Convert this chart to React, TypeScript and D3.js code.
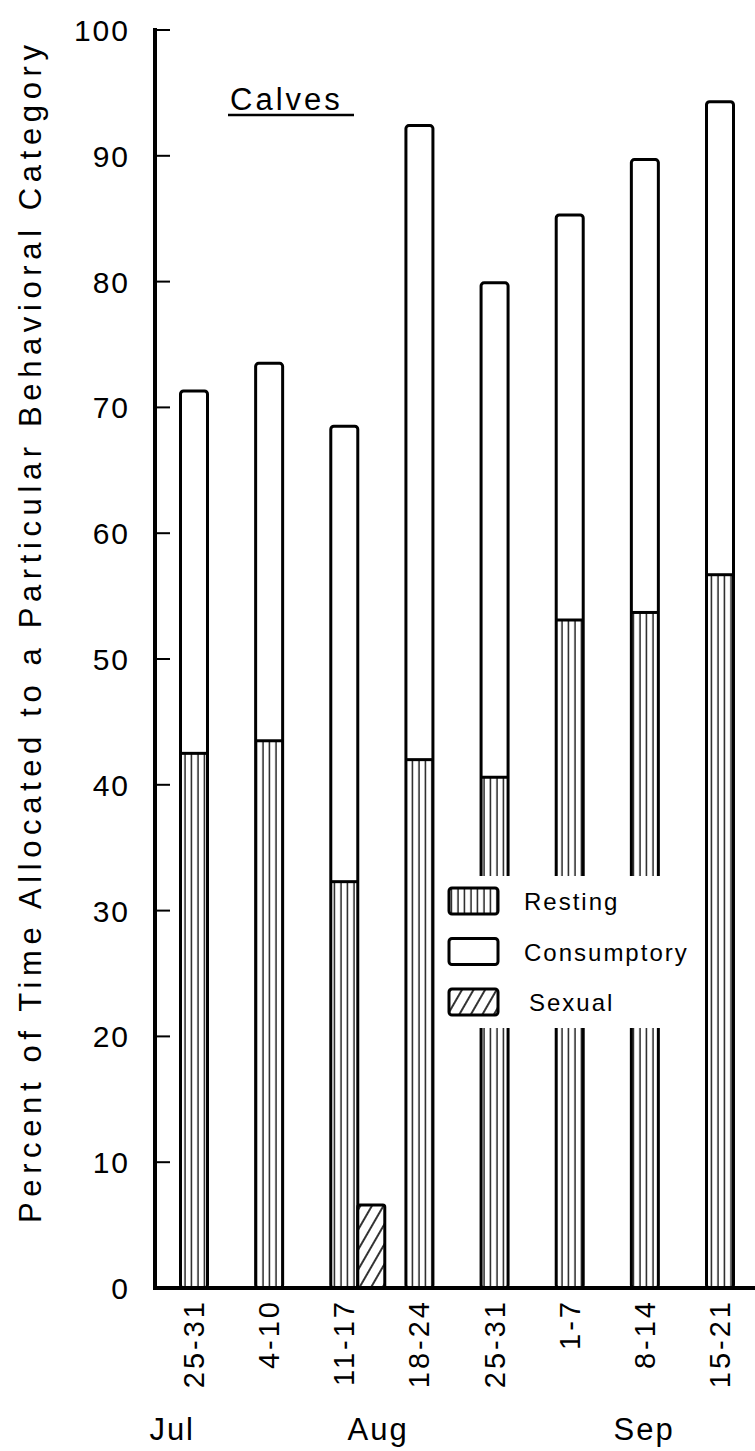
import React from "react";
import * as d3 from "d3";

const weeks = ["25-31", "4-10", "11-17", "18-24", "25-31", "1-7", "8-14", "15-21"];
const resting = [42.5, 43.5, 32.3, 42.0, 40.6, 53.1, 53.7, 56.7];
const consumptory = [28.8, 30.0, 36.2, 50.4, 39.3, 32.2, 36.0, 37.6];
const sexual = [0, 0, 6.6, 0, 0, 0, 0, 0];
const yTicks = [0, 10, 20, 30, 40, 50, 60, 70, 80, 90, 100];
const months = [
  { label: "Jul", at: -0.29 },
  { label: "Aug", at: 2.45 },
  { label: "Sep", at: 5.99 },
];
const legendItems = ["Resting", "Consumptory", "Sexual"];

const W = 755;
const H = 1451;
const FONT = "'Liberation Sans', Arial, sans-serif";

export default function App() {
  const y = d3.scaleLinear().domain([0, 100]).range([1288, 30]);
  const x = d3
    .scalePoint<number>()
    .domain(weeks.map((_, i) => i))
    .range([194, 720]);
  const bw = 27;
  const axisX = 155;
  const base = y(0);

  return (
    <svg
      width={W}
      height={H}
      viewBox={`0 0 ${W} ${H}`}
      style={{ position: "absolute", left: 0, top: 0, background: "#fff" }}
      fontFamily={FONT}
    >
      <defs>
        <pattern id="rest" patternUnits="userSpaceOnUse" width={6.5} height={10}>
          <rect width={6.5} height={10} fill="#fff" />
          <line x1={3} y1={0} x2={3} y2={10} stroke="#000" strokeWidth={1.3} />
        </pattern>
        <pattern
          id="hatch"
          patternUnits="userSpaceOnUse"
          width={10}
          height={10}
          patternTransform="rotate(30)"
        >
          <rect width={10} height={10} fill="#fff" />
          <line x1={5} y1={0} x2={5} y2={10} stroke="#000" strokeWidth={1.6} />
        </pattern>
      </defs>

      {/* bars */}
      {weeks.map((_, i) => {
        const cx = x(i)!;
        const r = resting[i];
        const t = r + consumptory[i];
        return (
          <g key={i}>
            <rect
              x={cx - bw / 2}
              y={y(r)}
              width={bw}
              height={base - y(r)}
              fill="url(#rest)"
            />
            <rect
              x={cx - bw / 2}
              y={y(t)}
              width={bw}
              height={base - y(t)}
              rx={3}
              fill="none"
              stroke="#000"
              strokeWidth={3}
            />
            <line
              x1={cx - bw / 2}
              x2={cx + bw / 2}
              y1={y(r)}
              y2={y(r)}
              stroke="#000"
              strokeWidth={3}
            />
            {sexual[i] > 0 && (
              <rect
                x={cx + bw / 2}
                y={y(sexual[i])}
                width={bw}
                height={base - y(sexual[i])}
                rx={2}
                fill="url(#hatch)"
                stroke="#000"
                strokeWidth={3}
              />
            )}
          </g>
        );
      })}

      {/* legend */}
      <rect x={440} y={876} width={260} height={152} fill="#fff" />
      {legendItems.map((name, i) => {
        const top = 888 + i * 50.5;
        const fill = i === 0 ? "url(#rest)" : i === 2 ? "url(#hatch)" : "#fff";
        return (
          <g key={name}>
            <rect
              x={449}
              y={top}
              width={49}
              height={26}
              rx={3}
              fill={fill}
              stroke="#000"
              strokeWidth={3}
            />
            <text
              x={i === 2 ? 529 : 524}
              y={top + 22}
              fontSize={24}
              letterSpacing={2}
            >
              {name}
            </text>
          </g>
        );
      })}

      {/* y axis */}
      <line x1={axisX} x2={axisX} y1={y(100) - 2} y2={base + 2} stroke="#000" strokeWidth={4} />
      {yTicks.map((t) => (
        <g key={t}>
          <line x1={axisX} x2={axisX + 15} y1={y(t)} y2={y(t)} stroke="#000" strokeWidth={2} />
          <text
            x={130}
            y={y(t) + 11}
            textAnchor="end"
            fontSize={30}
            letterSpacing={2}
          >
            {t}
          </text>
        </g>
      ))}
      {/* baseline */}
      <line x1={axisX - 2} x2={W} y1={base} y2={base} stroke="#000" strokeWidth={4} />

      {/* x labels */}
      {weeks.map((w, i) => (
        <text
          key={i}
          transform={`translate(${x(i)! + 10},1299) rotate(-90)`}
          textAnchor="end"
          fontSize={29}
          letterSpacing={3}
        >
          {w}
        </text>
      ))}
      {months.map((m) => (
        <text
          key={m.label}
          x={x(0)! + m.at * (x(1)! - x(0)!)}
          y={1440}
          textAnchor="middle"
          fontSize={31}
          letterSpacing={2}
        >
          {m.label}
        </text>
      ))}

      {/* title */}
      <text x={230} y={110} fontSize={31} letterSpacing={3}>
        Calves
      </text>
      <line x1={228} x2={354} y1={115} y2={115} stroke="#000" strokeWidth={2.5} />

      {/* y-axis label */}
      <text
        transform={`translate(41,634) rotate(-90)`}
        textAnchor="middle"
        fontSize={31}
        textLength={1178}
        lengthAdjust="spacing"
      >
        Percent of Time Allocated to a Particular Behavioral Category
      </text>
    </svg>
  );
}
